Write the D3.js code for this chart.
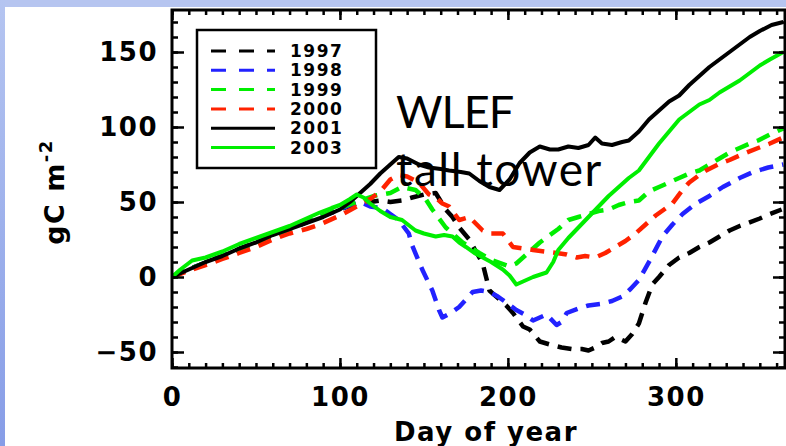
<!DOCTYPE html>
<html><head><meta charset="utf-8">
<script src="https://cdn.jsdelivr.net/npm/d3@7"></script>
<style>body{margin:0;background:#fff;overflow:hidden}svg{display:block}</style>
</head><body>
<svg id="chart" width="786" height="446"></svg>
<script>
// ---- data (day of year, cumulative NEE gC m-2) ----
const seriesNames = ["1997","1998","1999","2000","2001","2003"];
const seriesColors = ["#000000","#2222ff","#00ee00","#ff2200","#000000","#00ee00"];
const seriesDashed = [true,true,true,true,false,false];

const d1997 = [[0,0],[12,6],[30,14],[50,23],[70,32],[88,40],[100,45],[110,49],[118,50],[124,51],[130,50],[137,51],[143,53],[150,55],[157,56],[163,45],[167,40],[171,33],[177,25],[181,17],[185,9],[187,0],[189,-9],[195,-15],[199,-19],[203,-24],[209,-33],[213,-35],[219,-43],[225,-45],[232,-47],[238,-48],[244,-48],[248,-49],[252,-47],[256,-44],[260,-43],[264,-40],[270,-43],[274,-38],[278,-31],[282,-17],[286,-5],[290,0],[296,8],[302,13],[308,16],[314,20],[320,23],[326,27],[332,31],[338,34],[343,36],[350,39],[356,42],[363,45]];
const d1998 = [[0,0],[12,6],[30,14],[50,23],[70,32],[88,40],[100,45],[108,49],[112,50],[118,47],[125,46],[130,42],[135,38],[141,29],[143,21],[149,5],[155,-9],[159,-22],[161,-27],[166,-24],[171,-20],[175,-15],[179,-10],[184,-9],[189,-10],[194,-13],[199,-17],[205,-22],[210,-25],[215,-29],[219,-27],[223,-25],[229,-32],[232,-30],[235,-24],[242,-21],[248,-19],[255,-18],[262,-16],[268,-13],[273,-8],[278,-2],[285,12],[292,27],[298,35],[304,42],[312,49],[320,54],[328,60],[338,66],[346,70],[355,73],[364,75]];
const d1999 = [[0,0],[12,6],[30,14],[50,23],[70,32],[88,40],[100,46],[110,50],[120,54],[130,56],[137,60],[145,58],[151,52],[155,45],[163,33],[173,23],[183,16],[191,11],[201,7],[205,9],[211,15],[219,23],[225,28],[230,32],[236,38],[242,40],[248,42],[254,44],[260,45],[266,48],[272,50],[278,51],[284,57],[290,60],[296,63],[302,66],[308,69],[314,71],[320,75],[326,79],[332,83],[338,86],[344,89],[349,91],[356,95],[364,99]];
const d2000 = [[0,0],[12,5],[20,8],[30,12],[40,16],[50,20],[60,25],[70,29],[80,32],[88,35],[100,41],[110,47],[118,52],[124,57],[130,65],[135,68],[140,67],[147,63],[153,55],[157,53],[161,49],[165,47],[171,38],[177,40],[185,31],[189,29],[197,29],[203,20],[209,19],[215,18],[222,17],[229,16],[235,15],[241,13],[246,14],[252,13],[258,16],[264,20],[270,24],[276,29],[282,35],[288,41],[298,49],[304,58],[308,63],[314,68],[318,71],[325,75],[332,78],[340,82],[349,86],[356,89],[364,93]];
const d2001 = [[0,0],[10,5],[20,10],[30,14],[40,19],[50,23],[60,28],[70,32],[80,36],[90,40],[100,45],[106,50],[112,56],[118,62],[124,69],[130,75],[135,80],[140,79],[147,75],[153,73],[160,72],[165,71],[172,70],[177,69],[183,64],[189,60],[195,58],[201,65],[207,76],[213,83],[219,87],[225,85],[230,85],[236,87],[242,86],[248,88],[252,93],[256,89],[262,88],[268,90],[272,91],[278,97],[284,105],[290,111],[296,117],[302,121],[308,128],[314,134],[320,140],[326,145],[332,150],[338,155],[344,160],[350,164],[357,168],[364,170]];
const d2003 = [[0,0],[5,5],[12,11],[20,13],[30,17],[40,22],[50,26],[60,30],[70,34],[80,39],[88,43],[95,46],[100,48],[106,52],[110,55],[114,53],[118,49],[124,44],[130,40],[137,38],[145,31],[150,29],[157,27],[162,28],[167,27],[171,23],[175,20],[180,16],[185,13],[190,10],[197,5],[201,1],[205,-5],[209,-3],[215,0],[223,3],[227,10],[230,18],[236,26],[242,33],[248,40],[254,47],[260,54],[266,60],[272,66],[278,71],[284,80],[290,89],[296,97],[302,105],[308,110],[314,115],[320,118],[326,123],[332,127],[338,131],[344,136],[350,141],[356,145],[364,150]];
const seriesData = [d1997,d1998,d1999,d2000,d2001,d2003];

const xTicks = [0,100,200,300];
const yTicks = [-50,0,50,100,150];
const xTitle = "Day of year";
const yTitle = "gC m";
const yTitleSup = "-2";
const annotation = ["WLEF","tall tower"];

// ---- layout ----
const svg = d3.select("#chart");
const L = 172, R = 785, T = 10, B = 368;
const x = d3.scaleLinear().domain([0,365]).range([L,R]);
const y = d3.scaleLinear().domain([-60.67,178]).range([B,T]);

// background bands
const defs = svg.append("defs");
const g1 = defs.append("linearGradient").attr("id","lb").attr("x1",0).attr("y1",0).attr("x2",0).attr("y2",1);
g1.append("stop").attr("offset","0%").attr("stop-color","#b5c5f1");
g1.append("stop").attr("offset","100%").attr("stop-color","#879de7");
svg.append("rect").attr("x",0).attr("y",0).attr("width",786).attr("height",446).attr("fill","#fff");
svg.append("rect").attr("x",0).attr("y",0).attr("width",786).attr("height",7).attr("fill","#b6c5f0");
svg.append("rect").attr("x",0).attr("y",0).attr("width",5).attr("height",446).attr("fill","url(#lb)");

defs.append("clipPath").attr("id","clip").append("rect").attr("x",L).attr("y",T).attr("width",R-L).attr("height",B-T);

// lines
const line = d3.line().x(d=>x(d[0])).y(d=>y(d[1]));
const plot = svg.append("g").attr("clip-path","url(#clip)");
seriesData.forEach((d,i)=>{
  plot.append("path").attr("d",line(d)).attr("fill","none")
    .attr("stroke",seriesColors[i]).attr("stroke-width",seriesDashed[i]?4.5:4)
    .attr("stroke-linejoin","round")
    .attr("stroke-dasharray",seriesDashed[i]?"14,9":null);
});

// axes
const font = "'DejaVu Sans', sans-serif";
function styleAxis(g){ g.select(".domain").remove(); g.selectAll("line").attr("stroke","#000").attr("stroke-width",2.5); }
const xMinor = d3.range(0,366,10), yMinor = d3.range(-60,171,10);
svg.append("g").attr("transform",`translate(0,${B})`).call(d3.axisBottom(x).tickValues(xMinor).tickSize(-5).tickFormat("")).call(styleAxis);
svg.append("g").attr("transform",`translate(0,${T})`).call(d3.axisTop(x).tickValues(xMinor).tickSize(-5).tickFormat("")).call(styleAxis);
svg.append("g").attr("transform",`translate(${L},0)`).call(d3.axisLeft(y).tickValues(yMinor).tickSize(-6).tickFormat("")).call(styleAxis);
svg.append("g").attr("transform",`translate(${R},0)`).call(d3.axisRight(y).tickValues(yMinor).tickSize(-6).tickFormat("")).call(styleAxis);

const xa = svg.append("g").attr("transform",`translate(0,${B})`).call(d3.axisBottom(x).tickValues(xTicks).tickSize(-10).tickPadding(22)).call(styleAxis);
svg.append("g").attr("transform",`translate(0,${T})`).call(d3.axisTop(x).tickValues(xTicks).tickSize(-10).tickFormat("")).call(styleAxis);
const ya = svg.append("g").attr("transform",`translate(${L},0)`).call(d3.axisLeft(y).tickValues(yTicks).tickSize(-12).tickPadding(26).tickFormat(d=>d<0?"\u2212"+Math.abs(d):d)).call(styleAxis);
svg.append("g").attr("transform",`translate(${R},0)`).call(d3.axisRight(y).tickValues(yTicks).tickSize(-12).tickFormat("")).call(styleAxis);
[xa,ya].forEach(a=>a.selectAll("text").attr("font-family",font).attr("font-weight","bold").attr("font-size",26).attr("fill","#000").attr("letter-spacing",1.5));
xa.selectAll("text").attr("dy","0.71em").attr("y",20);
ya.selectAll("text").attr("x",-14);

// frame
svg.append("rect").attr("x",L).attr("y",T).attr("width",R-L).attr("height",B-T).attr("fill","none").attr("stroke","#000").attr("stroke-width",3);

// titles
svg.append("text").attr("x",486).attr("y",441).attr("text-anchor","middle").attr("font-family",font).attr("font-weight","bold").attr("font-size",26).attr("letter-spacing",1.5).text(xTitle);
const yt = svg.append("text").attr("transform","translate(64,192) rotate(-90)").attr("text-anchor","middle").attr("font-family",font).attr("font-weight","bold").attr("font-size",27).attr("letter-spacing",1.5);
yt.append("tspan").text(yTitle);
yt.append("tspan").attr("dy",-12).attr("font-size",18).text(yTitleSup);

// annotation
svg.append("text").attr("x",396).attr("y",128).attr("font-family","Lato, sans-serif").attr("font-size",45).attr("letter-spacing",-1).text(annotation[0]);
svg.append("text").attr("x",396).attr("y",186).attr("font-family","Lato, sans-serif").attr("font-size",46).attr("letter-spacing",1.5).text(annotation[1]);

// legend
const lg = svg.append("g");
lg.append("rect").attr("x",197).attr("y",30).attr("width",179).attr("height",138).attr("fill","#fff").attr("stroke","#000").attr("stroke-width",2.5);
seriesNames.forEach((n,i)=>{
  const yy = 51 + i*19.3;
  lg.append("line").attr("x1",211).attr("x2",275).attr("y1",yy).attr("y2",yy)
    .attr("stroke",seriesColors[i]).attr("stroke-width",3)
    .attr("stroke-dasharray",seriesDashed[i]?"15,13":null);
  lg.append("text").attr("x",290).attr("y",yy+6).attr("font-family",font).attr("font-weight","bold").attr("font-size",17).attr("letter-spacing",1.5).text(n);
});
</script>
</body></html>
